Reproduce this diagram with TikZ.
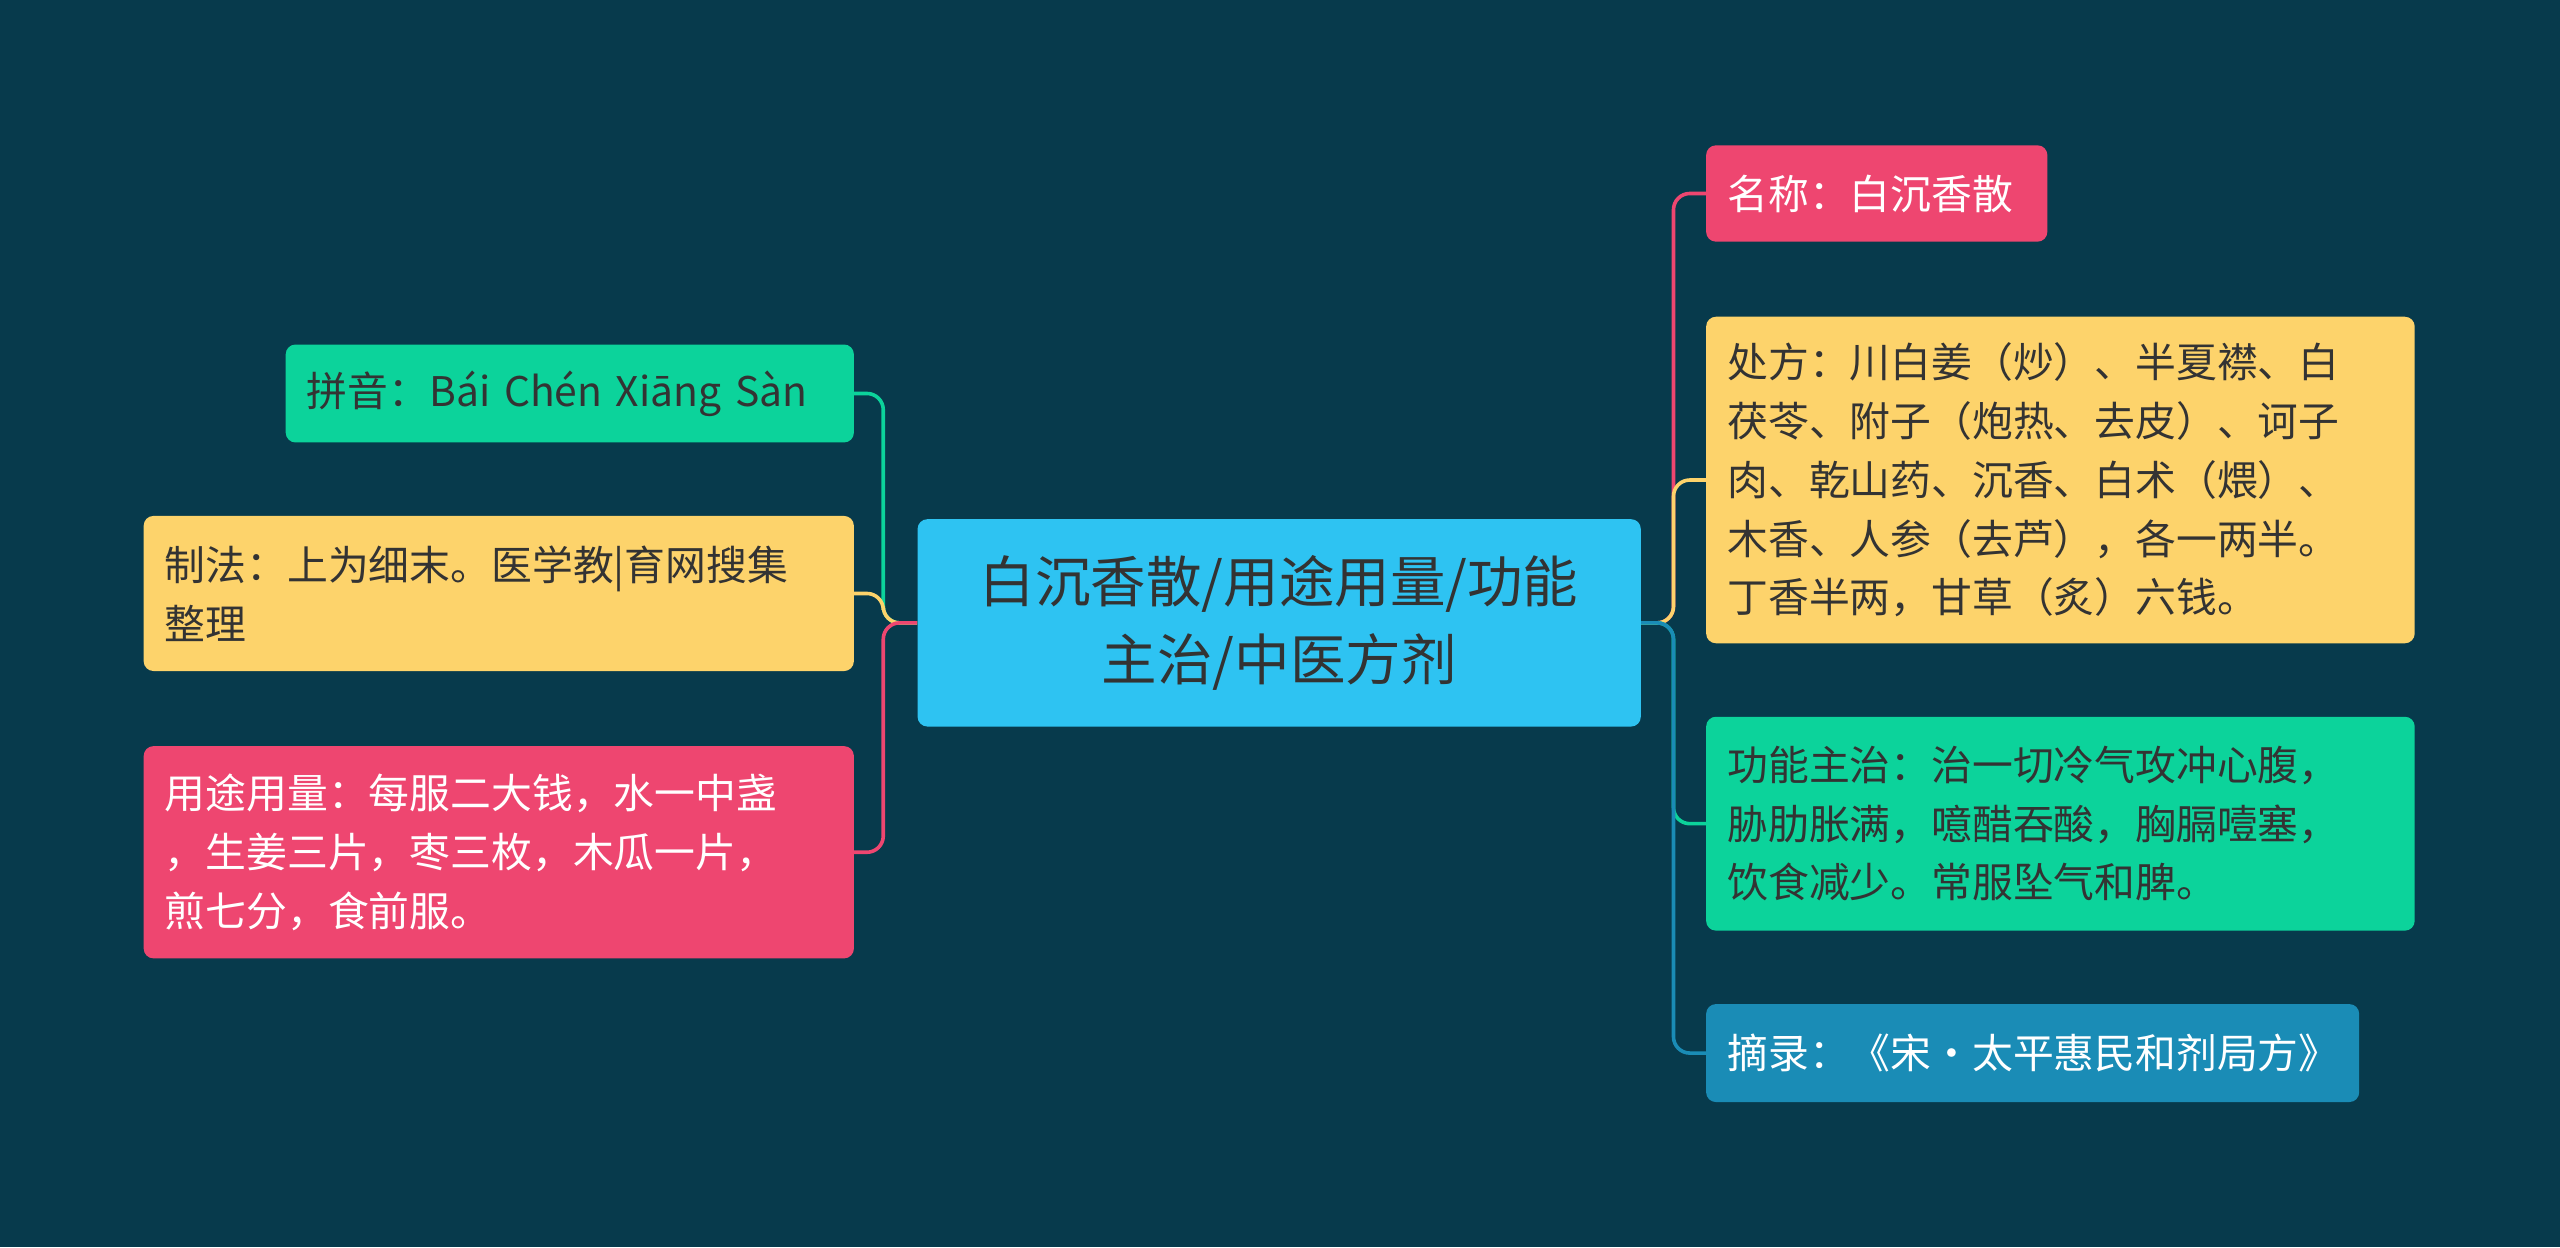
\documentclass[tikz,border=0pt]{standalone}
\usepackage{fontspec}
\setmainfont{Noto Sans CJK SC}
\definecolor{bg}{HTML}{073A4C}
\definecolor{cblue}{HTML}{2EC3F2}
\definecolor{cgreen}{HTML}{0CD39B}
\definecolor{cyellow}{HTML}{FDD36B}
\definecolor{cred}{HTML}{EE4670}
\definecolor{cdblue}{HTML}{1A8CB6}
\definecolor{dtext}{HTML}{333333}
\tikzset{
 leaf/.style={rounded corners=6pt, inner sep=0pt, align=left, font=\fontsize{25}{36}\selectfont},
 conn/.style={line width=2.2pt, rounded corners=10pt},
}
\newcommand{\mybox}[7]{% name, x1,y1,x2,y2, fill, textcolor + text via #7? 
}
\begin{document}
\begin{tikzpicture}[x=1pt,y=-1pt]
\fill[bg] (0,0) rectangle (1568,764);
\useasboundingbox (0,0) rectangle (1568,764);
% center
\node[leaf, fill=cblue, text=dtext, minimum width=443pt, minimum height=127pt, align=center, font=\fontsize{34}{48}\selectfont] (c) at (783.5,381.5) {白沉香散/用途用量/功能\\主治/中医方剂};
% left
\node[leaf, fill=cgreen, text=dtext, minimum width=348pt, minimum height=60pt, text width=322pt] (py) at (349,241) {拼音：Bái Chén Xiāng Sàn};
\node[leaf, fill=cyellow, text=dtext, minimum width=435pt, minimum height=95pt, text width=409pt] (zf) at (305.5,363.5) {制法：上为细末。医学教|育网搜集\\整理};
\node[leaf, fill=cred, text=white, minimum width=435pt, minimum height=130pt, text width=409pt] (yt) at (305.5,522) {用途用量：每服二大钱，水一中盏\\，生姜三片，枣三枚，木瓜一片，\\煎七分，食前服。};
% right
\node[leaf, fill=cred, text=white, minimum width=209pt, minimum height=59pt, text width=183pt] (mc) at (1149.5,118.5) {名称：白沉香散};
\node[leaf, fill=cyellow, text=dtext, minimum width=434pt, minimum height=200pt, text width=408pt] (cf) at (1262,294) {处方：川白姜（炒）、半夏襟、白\\茯苓、附子（炮热、去皮）、诃子\\肉、乾山药、沉香、白术（煨）、\\木香、人参（去芦），各一两半。\\丁香半两，甘草（炙）六钱。};
\node[leaf, fill=cgreen, text=dtext, minimum width=434pt, minimum height=131pt, text width=408pt] (gn) at (1262,504.5) {功能主治：治一切冷气攻冲心腹，\\胁肋胀满，噫醋吞酸，胸膈噎塞，\\饮食减少。常服坠气和脾。};
\node[leaf, fill=cdblue, text=white, minimum width=400pt, minimum height=60pt, text width=374pt] (zl) at (1245,645) {摘录：《宋·太平惠民和剂局方》};
% connectors
\coordinate (lj) at (541,381.5);
\coordinate (rj) at (1025,381.5);
\draw[conn, cgreen] (c.west) -- (lj) |- (py.east);
\draw[conn, cyellow] (c.west) -- (lj) |- (zf.east);
\draw[conn, cred] (c.west) -- (lj) |- (yt.east);
\draw[conn, cred] (c.east) -- (rj) |- (mc.west);
\draw[conn, cyellow] (c.east) -- (rj) |- (cf.west);
\draw[conn, cgreen] (c.east) -- (rj) |- (gn.west);
\draw[conn, cdblue] (c.east) -- (rj) |- (zl.west);
\end{tikzpicture}
\end{document}
